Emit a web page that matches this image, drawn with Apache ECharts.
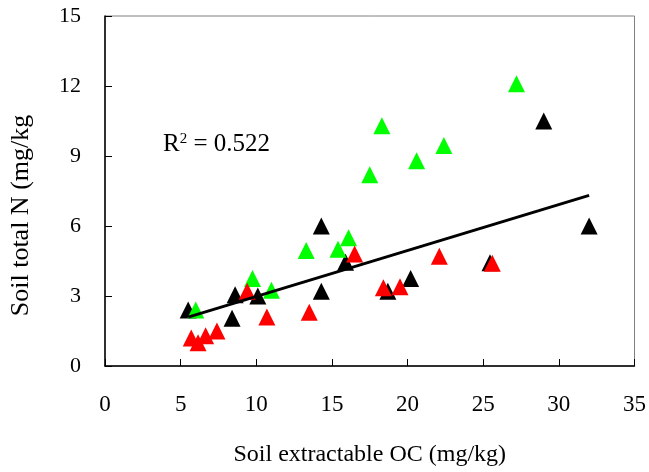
<!DOCTYPE html>
<html>
<head>
<meta charset="utf-8">
<script src="https://cdn.jsdelivr.net/npm/echarts@6/dist/echarts.min.js"></script>
<style>
html,body{margin:0;padding:0;background:#fff;}
#chart{width:649px;height:472px;}
</style>
</head>
<body>
<div id="chart"></div>
<script>
// Data: [Soil extractable OC, Soil total N]
const blackPts = [[5.5,2.4],[8.4,2.05],[8.6,3.05],[10.1,3.0],[14.3,6.0],[14.3,3.2],[15.9,4.45],[18.7,3.2],[20.2,3.75],[25.45,4.42],[29.0,10.5],[32.0,6.0]];
const greenPts = [[6.0,2.4],[9.75,3.75],[11.0,3.25],[13.3,4.95],[15.4,5.0],[16.1,5.5],[17.5,8.2],[18.3,10.3],[20.6,8.8],[22.4,9.45],[27.2,12.1]];
const redPts = [[5.7,1.2],[6.15,1.0],[6.65,1.3],[7.4,1.5],[9.4,3.2],[10.7,2.1],[13.5,2.3],[16.5,4.8],[18.4,3.35],[19.5,3.4],[22.1,4.7],[25.6,4.4]];
const xTicks = [0,5,10,15,20,25,30,35];
const yTicks = [0,3,6,9,12,15];
const r2Text = '0.522';

// Linear trendline fitted on the black series
function fit(pts){
  const n = pts.length;
  let sx=0, sy=0;
  pts.forEach(p=>{sx+=p[0]; sy+=p[1];});
  const mx=sx/n, my=sy/n;
  let sxy=0, sxx=0;
  pts.forEach(p=>{sxy+=(p[0]-mx)*(p[1]-my); sxx+=(p[0]-mx)*(p[0]-mx);});
  const b = sxy/sxx, a = my-b*mx;
  const xs = pts.map(p=>p[0]);
  const x0 = Math.min(...xs), x1 = Math.max(...xs);
  return [[x0, a+b*x0],[x1, a+b*x1]];
}
const trend = fit(blackPts);

const FONT = '"Liberation Serif", "Times New Roman", serif';
const chart = echarts.init(document.getElementById('chart'), null, {renderer:'canvas'});
const tri = (data, color) => ({
  type:'scatter', data, symbol:'triangle', symbolSize:[17,17],
  itemStyle:{color, opacity:1}, silent:true, animation:false
});
chart.setOption({
  animation:false,
  backgroundColor:'#fff',
  grid:{left:103, right:9, top:16, bottom:103, show:true, borderColor:'#808080', borderWidth:1},
  xAxis:{
    type:'value', min:xTicks[0], max:xTicks[xTicks.length-1], interval:5,
    name:'Soil extractable OC (mg/kg)', nameLocation:'middle', nameGap:77,
    nameTextStyle:{fontFamily:FONT, fontSize:24, color:'#000'},
    axisLine:{show:true, lineStyle:{color:'#000', width:1.5}},
    axisTick:{show:true, inside:true, length:7, lineStyle:{color:'#000', width:1}},
    axisLabel:{fontFamily:FONT, fontSize:23, color:'#000', margin:27},
    splitLine:{show:false}
  },
  yAxis:{
    type:'value', min:yTicks[0], max:yTicks[yTicks.length-1], interval:3,
    name:'Soil total N (mg/kg', nameLocation:'middle', nameGap:71, nameRotate:90,
    nameTextStyle:{fontFamily:FONT, fontSize:26, color:'#000', padding:[0,49,0,0]},
    axisLine:{show:true, lineStyle:{color:'#000', width:1.5}},
    axisTick:{show:true, inside:true, length:7, lineStyle:{color:'#000', width:1}},
    axisLabel:{fontFamily:FONT, fontSize:22, color:'#000', margin:24},
    splitLine:{show:false}
  },
  series:[
    tri(blackPts,'#000000'),
    tri(greenPts,'#00ff00'),
    tri(redPts,'#ff0000'),
    {type:'line', data:trend, symbol:'none', silent:true, z:5,
     lineStyle:{color:'#000', width:3}}
  ],
  graphic:[{
    type:'text', left:163, top:132, z:10,
    style:{
      text:'{a|R}{s|2}{a| = '+r2Text+'}',
      rich:{
        a:{fontFamily:FONT, fontSize:25, fill:'#000', verticalAlign:'bottom'},
        s:{fontFamily:FONT, fontSize:15, fill:'#000', verticalAlign:'top', padding:[0,0,8,0]}
      }
    }
  }]
});
</script>
</body>
</html>
